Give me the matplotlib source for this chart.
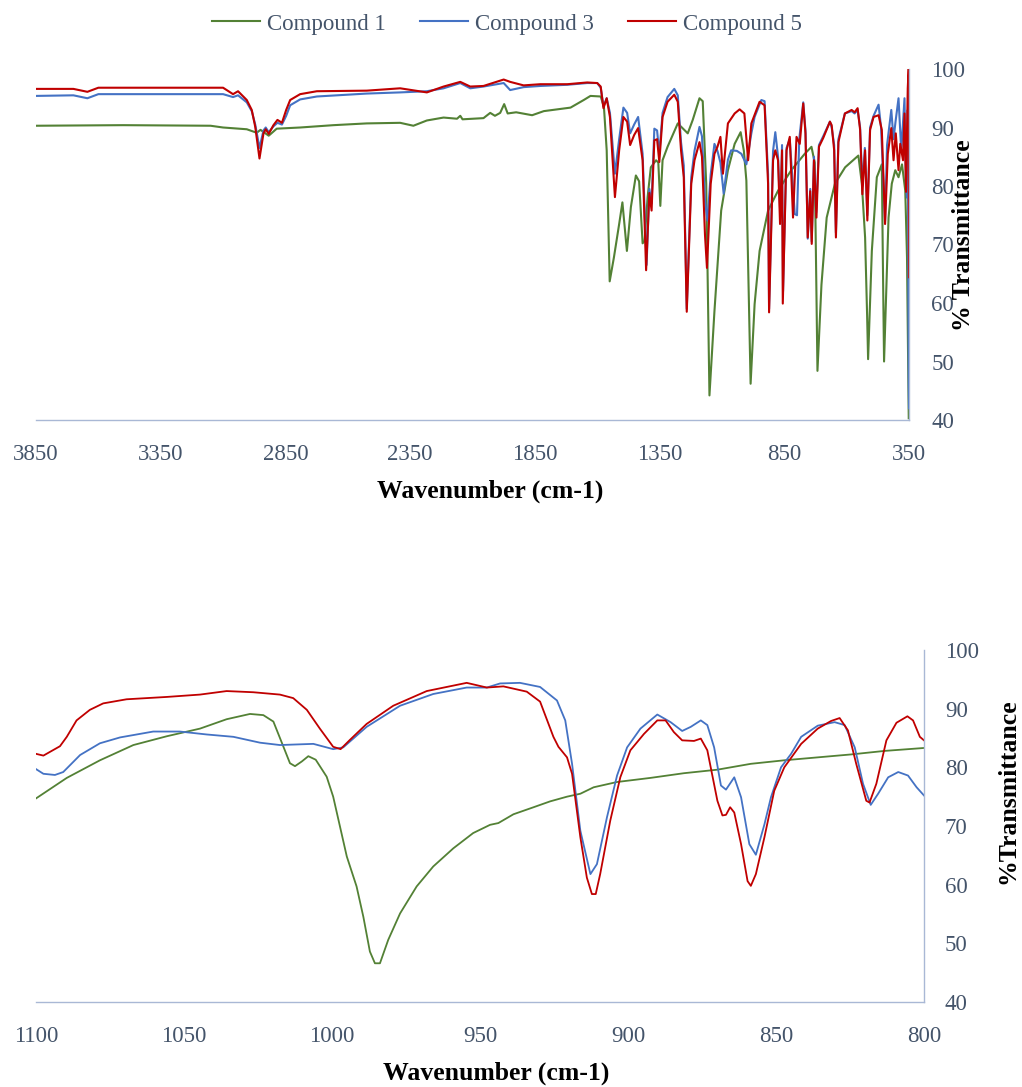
import matplotlib
matplotlib.use('Agg')
import matplotlib.pyplot as plt

plt.rcParams['font.family'] = ['Liberation Serif', 'DejaVu Serif']

labels = ['Compound 1', 'Compound 3', 'Compound 5']
colors = ['#538135', '#4472C4', '#C00000']

# ---- full spectrum (top) ----
c1_wn = [3850, 3500, 3150, 3100, 3005, 2965, 2950, 2917, 2885, 2791, 2657, 2524, 2390, 2337,
         2283, 2216, 2162, 2149, 2140, 2056, 2029, 2010, 1989, 1973, 1959, 1925, 1861, 1814,
         1707, 1654, 1627, 1586, 1573, 1562, 1550, 1533, 1512, 1499, 1481, 1465, 1445, 1432,
         1418, 1410, 1398, 1385, 1364, 1355, 1347, 1338, 1318, 1277, 1237, 1217, 1190, 1177,
         1163, 1150, 1130, 1103, 1076, 1049, 1025, 1012, 1002, 985, 969, 949, 915, 875, 822,
         768, 741, 728, 717, 701, 680, 647, 606, 553, 539, 526, 518, 514, 499, 479, 459, 455,
         450, 432, 419, 405, 392, 378, 365, 358, 351]
c1_t = [90.3, 90.4, 90.3, 90.0, 89.7, 89.1, 89.6, 88.6, 89.8, 90.0, 90.4, 90.7, 90.8, 90.3,
        91.2, 91.7, 91.5, 92.0, 91.4, 91.6, 92.5, 92.0, 92.5, 94.0, 92.4, 92.6, 92.1, 92.8,
        93.4, 94.7, 95.4, 95.3, 93.5, 86.1, 63.7, 67.8, 73.5, 77.2, 68.9, 76.4, 81.8, 80.8,
        70.2, 70.6, 78.1, 83.2, 84.4, 84.0, 76.6, 84.4, 86.7, 90.7, 89.0, 91.3, 95.0, 94.5,
        80.4, 44.2, 58.6, 75.8, 82.7, 87.2, 89.2, 86.0, 80.9, 46.2, 59.8, 68.9, 75.8, 79.2, 82.7,
        85.5, 86.7, 84.0, 48.4, 63.1, 74.6, 80.4, 83.2, 85.2, 80.4, 71.2, 58.0, 50.4, 68.9, 81.5,
        83.7, 68.0, 50.0, 74.6, 80.4, 82.7, 81.5, 83.7, 79.2, 67.8, 40.3]

c3_wn = [3850, 3700, 3644, 3600, 3100, 3060, 3040, 3005, 2985, 2971, 2954, 2938, 2929, 2917,
         2898, 2882, 2864, 2847, 2831, 2791, 2724, 2524, 2390, 2283, 2216, 2149, 2109, 2056,
         1975, 1949, 1895, 1828, 1720, 1640, 1600, 1586, 1575, 1562, 1549, 1529, 1512, 1495,
         1480, 1468, 1452, 1436, 1418, 1402, 1391, 1382, 1371, 1360, 1351, 1338, 1318, 1291,
         1277, 1264, 1253, 1241, 1223, 1210, 1190, 1180, 1168, 1158, 1145, 1130, 1118, 1106,
         1093, 1076, 1063, 1040, 1022, 1002, 982, 969, 942, 929, 915, 911, 895, 886, 875, 866,
         859, 855, 841, 828, 808, 799, 790, 774, 765, 756, 746, 740, 731, 722, 711, 694, 667,
         660, 650, 643, 633, 607, 580, 568, 556, 546, 537, 527, 517, 506, 492, 472, 462, 446,
         438, 421, 412, 404, 392, 381, 368, 362, 358, 355, 351, 350]
c3_t = [95.4, 95.5, 95.0, 95.7, 95.7, 95.2, 95.5, 94.3, 92.8, 90.5, 86.5, 89.5, 90.0, 89.2,
        90.2, 90.8, 90.5, 92.0, 93.8, 94.8, 95.3, 95.8, 96.0, 96.2, 96.7, 97.6, 96.7, 97.0,
        97.6, 96.4, 96.9, 97.1, 97.3, 97.6, 97.6, 96.8, 93.6, 95.0, 92.5, 82.1, 88.0, 93.4,
        92.5, 89.0, 90.5, 91.8, 85.5, 66.5, 79.5, 77.0, 89.8, 89.5, 85.5, 92.5, 95.2, 96.6,
        95.5, 87.5, 83.5, 59.0, 81.5, 86.0, 90.1, 88.5, 77.5, 74.1, 82.0, 87.2, 86.0, 84.0,
        78.7, 84.5, 86.1, 86.0, 85.5, 83.7, 89.0, 91.8, 94.7, 94.5, 82.0, 59.0, 86.0, 89.2,
        85.0, 75.0, 87.0, 62.0, 86.5, 88.0, 75.2, 75.0, 88.0, 94.3, 89.5, 71.0, 79.5, 70.5,
        85.0, 75.5, 87.0, 88.5, 91.0, 90.0, 87.0, 72.0, 88.0, 92.4, 92.8, 92.4, 93.0, 90.0,
        80.0, 86.5, 75.0, 90.0, 92.0, 93.9, 90.0, 74.0, 87.0, 93.0, 88.0, 91.0, 95.0, 86.0,
        95.0, 80.0, 78.0, 93.0, 46.0, 42.0]

c5_wn = [3850, 3700, 3644, 3600, 3100, 3060, 3040, 3005, 2985, 2971, 2954, 2938, 2929, 2917,
         2898, 2882, 2864, 2847, 2831, 2791, 2724, 2524, 2390, 2283, 2216, 2149, 2109, 2056,
         1975, 1949, 1895, 1828, 1720, 1640, 1600, 1586, 1575, 1562, 1549, 1529, 1512, 1495,
         1480, 1468, 1452, 1436, 1418, 1404, 1391, 1382, 1371, 1360, 1351, 1338, 1318, 1291,
         1277, 1264, 1253, 1241, 1223, 1210, 1190, 1180, 1168, 1160, 1145, 1130, 1118, 1106,
         1096, 1076, 1049, 1029, 1010, 995, 982, 949, 929, 915, 911, 895, 886, 875, 867, 859,
         856, 841, 828, 815, 801, 788, 774, 765, 756, 746, 740, 731, 721, 711, 694, 667, 660,
         650, 643, 633, 607, 580, 568, 556, 546, 537, 526, 517, 506, 492, 472, 459, 446, 435,
         421, 412, 403, 392, 385, 374, 368, 362, 355, 351, 350]
c5_t = [96.6, 96.6, 96.1, 96.8, 96.8, 95.7, 96.2, 94.7, 93.0, 90.1, 84.7, 89.0, 89.7, 88.9,
        90.4, 91.3, 90.8, 93.0, 94.7, 95.7, 96.2, 96.3, 96.7, 96.0, 97.0, 97.8, 97.0, 97.1,
        98.2, 97.8, 97.2, 97.4, 97.4, 97.7, 97.6, 97.0, 93.3, 95.0, 91.8, 78.1, 86.1, 91.8,
        91.0, 87.0, 88.7, 89.9, 84.4, 65.6, 78.8, 75.8, 87.8, 88.0, 84.1, 91.8, 94.4, 95.6,
        94.4, 86.1, 81.5, 58.5, 80.4, 84.4, 87.5, 85.0, 71.7, 66.0, 80.4, 85.5, 86.7, 88.4,
        82.1, 90.7, 92.4, 93.1, 92.4, 84.4, 90.7, 94.4, 93.8, 80.4, 58.4, 84.4, 86.1, 84.4,
        73.5, 86.1, 59.9, 86.1, 88.4, 74.6, 88.4, 87.2, 94.1, 89.0, 71.2, 79.1, 70.1, 84.4,
        74.6, 86.7, 88.2, 91.0, 90.4, 86.1, 71.2, 87.5, 92.4, 93.0, 92.6, 93.3, 89.6, 78.6,
        86.1, 74.1, 89.6, 91.8, 92.1, 89.6, 73.5, 85.5, 89.9, 84.4, 89.0, 82.7, 87.2, 84.4,
        92.4, 79.0, 96.7, 100.4, 64.4]

# ---- expanded region 1100-800 (bottom) ----
z1_wn = [1100, 1089.6, 1078.4, 1067.1, 1055.8, 1044.6, 1035.6, 1027.7, 1023.2, 1019.8, 1016.4,
         1014.2, 1012.5, 1010.2, 1008.0, 1005.5, 1001.8, 999.6, 997.3, 995.0, 991.7, 989.4,
         987.2, 985.5, 983.8, 981.0, 977.0, 971.4, 965.8, 959.0, 952.3, 946.6, 943.8, 938.7,
         931.9, 926.3, 920.6, 916.1, 911.6, 903.7, 892.4, 881.1, 869.8, 858.5, 847.2, 835.9,
         824.6, 813.3, 800]
z1_t = [74.7, 78.2, 81.2, 83.8, 85.3, 86.6, 88.2, 89.1, 88.9, 87.8, 83.5, 80.7, 80.2, 81.0,
        81.9, 81.3, 78.4, 75.0, 69.9, 64.8, 59.7, 54.5, 48.6, 46.6, 46.6, 50.6, 55.1, 59.7,
        63.1, 66.2, 68.8, 70.2, 70.5, 72.0, 73.2, 74.2, 75.0, 75.5, 76.6, 77.5, 78.2, 79.0,
        79.6, 80.6, 81.2, 81.7, 82.2, 82.8, 83.3]

z3_wn = [1100, 1097.5, 1093.6, 1090.8, 1085.1, 1078.4, 1071.6, 1060.4, 1051.4, 1042.3, 1033.3,
         1024.3, 1017.6, 1006.3, 999.6, 996.2, 988.3, 977.0, 965.8, 954.5, 947.7, 943.2,
         936.5, 929.7, 924.0, 921.2, 918.9, 916.1, 912.7, 910.5, 907.1, 903.7, 900.3, 895.8,
         890.1, 885.6, 881.7, 878.8, 875.4, 873.2, 870.9, 868.6, 866.9, 864.1, 861.8, 859.0,
         856.8, 853.9, 851.7, 848.3, 844.9, 841.5, 835.9, 830.2, 826.8, 823.4, 820.6, 818.0,
         815.5, 812.1, 808.7, 805.4, 802.5, 800]
z3_t = [79.7, 78.9, 78.7, 79.2, 82.1, 84.1, 85.1, 86.1, 86.1, 85.6, 85.2, 84.2, 83.8, 84.0,
        83.1, 83.4, 86.9, 90.5, 92.5, 93.6, 93.6, 94.3, 94.4, 93.7, 91.4, 88.0, 80.6, 69.2,
        61.8, 63.5, 71.5, 78.6, 83.4, 86.6, 89.0, 87.7, 86.2, 86.9, 88.0, 87.2, 83.4, 76.9,
        76.2, 78.3, 74.9, 66.9, 65.1, 70.3, 74.9, 80.0, 82.3, 85.2, 87.1, 87.7, 87.2, 83.4,
        77.2, 73.6, 75.5, 78.3, 79.2, 78.6, 76.6, 75.2]

z5_wn = [1100, 1097.5, 1094.7, 1091.9, 1089.6, 1086.3, 1081.8, 1077.3, 1069.4, 1055.8, 1044.6,
         1035.6, 1026.6, 1017.6, 1013.1, 1008.5, 1004.1, 999.6, 997.1, 993.9, 988.3, 979.3,
         968.0, 954.5, 947.7, 942.1, 934.2, 929.7, 925.2, 923.5, 920.6, 918.9, 916.1, 913.9,
         912.2, 910.9, 909.4, 906.0, 902.6, 899.2, 894.6, 890.1, 887.3, 884.5, 881.7, 877.7,
         875.4, 873.2, 869.8, 868.1, 866.9, 865.5, 864.1, 861.8, 859.6, 858.5, 856.8, 853.9,
         850.6, 847.2, 841.5, 835.9, 831.4, 828.5, 825.7, 822.9, 819.5, 818.4, 816.1, 812.7,
         809.3, 805.6, 803.7, 801.4, 800]
z5_t = [82.3, 82.0, 82.8, 83.6, 85.2, 88.0, 89.8, 90.9, 91.6, 92.0, 92.4, 93.0, 92.8, 92.4,
        91.8, 89.8, 86.6, 83.5, 83.1, 84.7, 87.4, 90.5, 93.0, 94.4, 93.6, 93.8, 92.9, 91.2,
        85.2, 83.5, 81.7, 78.9, 68.1, 61.2, 58.4, 58.4, 61.8, 70.9, 78.3, 82.9, 85.7, 88.0,
        88.0, 86.0, 84.6, 84.5, 84.9, 82.9, 74.3, 71.8, 71.9, 73.2, 72.3, 66.9, 60.6, 59.8,
        61.8, 68.1, 76.0, 80.0, 84.0, 86.6, 87.9, 88.4, 86.3, 80.6, 74.3, 74.0, 77.2, 84.6,
        87.6, 88.7, 88.0, 85.2, 84.6]

y_ticks = [40, 50, 60, 70, 80, 90, 100]
top_xticks = [3850, 3350, 2850, 2350, 1850, 1350, 850, 350]
bot_xticks = [1100, 1050, 1000, 950, 900, 850, 800]

tick_col = '#44546A'
spine_col = '#A9B8D5'
W, H = 1022, 1087

fig = plt.figure(figsize=(W / 100, H / 100), dpi=100)
ax1 = fig.add_axes([36 / W, 1 - 420 / H, (909 - 36) / W, 351 / H])
ax2 = fig.add_axes([36 / W, 1 - 1002 / H, (924 - 36) / W, 352 / H])

for xs, ys, c, lab in zip([c1_wn, c3_wn, c5_wn], [c1_t, c3_t, c5_t], colors, labels):
    ax1.plot(xs, ys, color=c, lw=1.5, label=lab)
for xs, ys, c in zip([z1_wn, z3_wn, z5_wn], [z1_t, z3_t, z5_t], colors):
    ax2.plot(xs, ys, color=c, lw=1.3)

for ax, xt, lim, pad in [(ax1, top_xticks, (3850, 350), 16), (ax2, bot_xticks, (1100, 800), 15)]:
    ax.set_xlim(*lim)
    ax.set_ylim(40, 100)
    ax.set_xticks(xt)
    ax.set_yticks(y_ticks)
    ax.yaxis.tick_right()
    ax.tick_params(length=0, labelsize=16.5, labelcolor=tick_col)
    ax.tick_params(axis='x', pad=17.5)
    ax.tick_params(axis='y', pad=pad)
    for s in ['top', 'left']:
        ax.spines[s].set_visible(False)
    for s in ['bottom', 'right']:
        ax.spines[s].set_color(spine_col)
        ax.spines[s].set_linewidth(1.0)

fig.text(490 / W, 1 - 491 / H, 'Wavenumber (cm-1)', ha='center', va='center',
         fontsize=18.5, fontweight='bold')
fig.text(496 / W, 1 - 1073 / H, 'Wavenumber (cm-1)', ha='center', va='center',
         fontsize=18.5, fontweight='bold')
fig.text(963 / W, 1 - 235 / H, '% Transmittance', ha='center', va='center', rotation=90,
         fontsize=18.5, fontweight='bold')
fig.text(1008 / W, 1 - 791 / H, '%Transmittance', ha='center', va='center', rotation=90,
         fontsize=18.5, fontweight='bold')

fig.legend(loc='center', bbox_to_anchor=(507 / W, 1 - 24 / H), ncol=3, frameon=False,
           fontsize=16.5, labelcolor=tick_col, handlelength=2.1, handletextpad=0.3,
           columnspacing=1.5)

fig.savefig('out.png', dpi=100)
